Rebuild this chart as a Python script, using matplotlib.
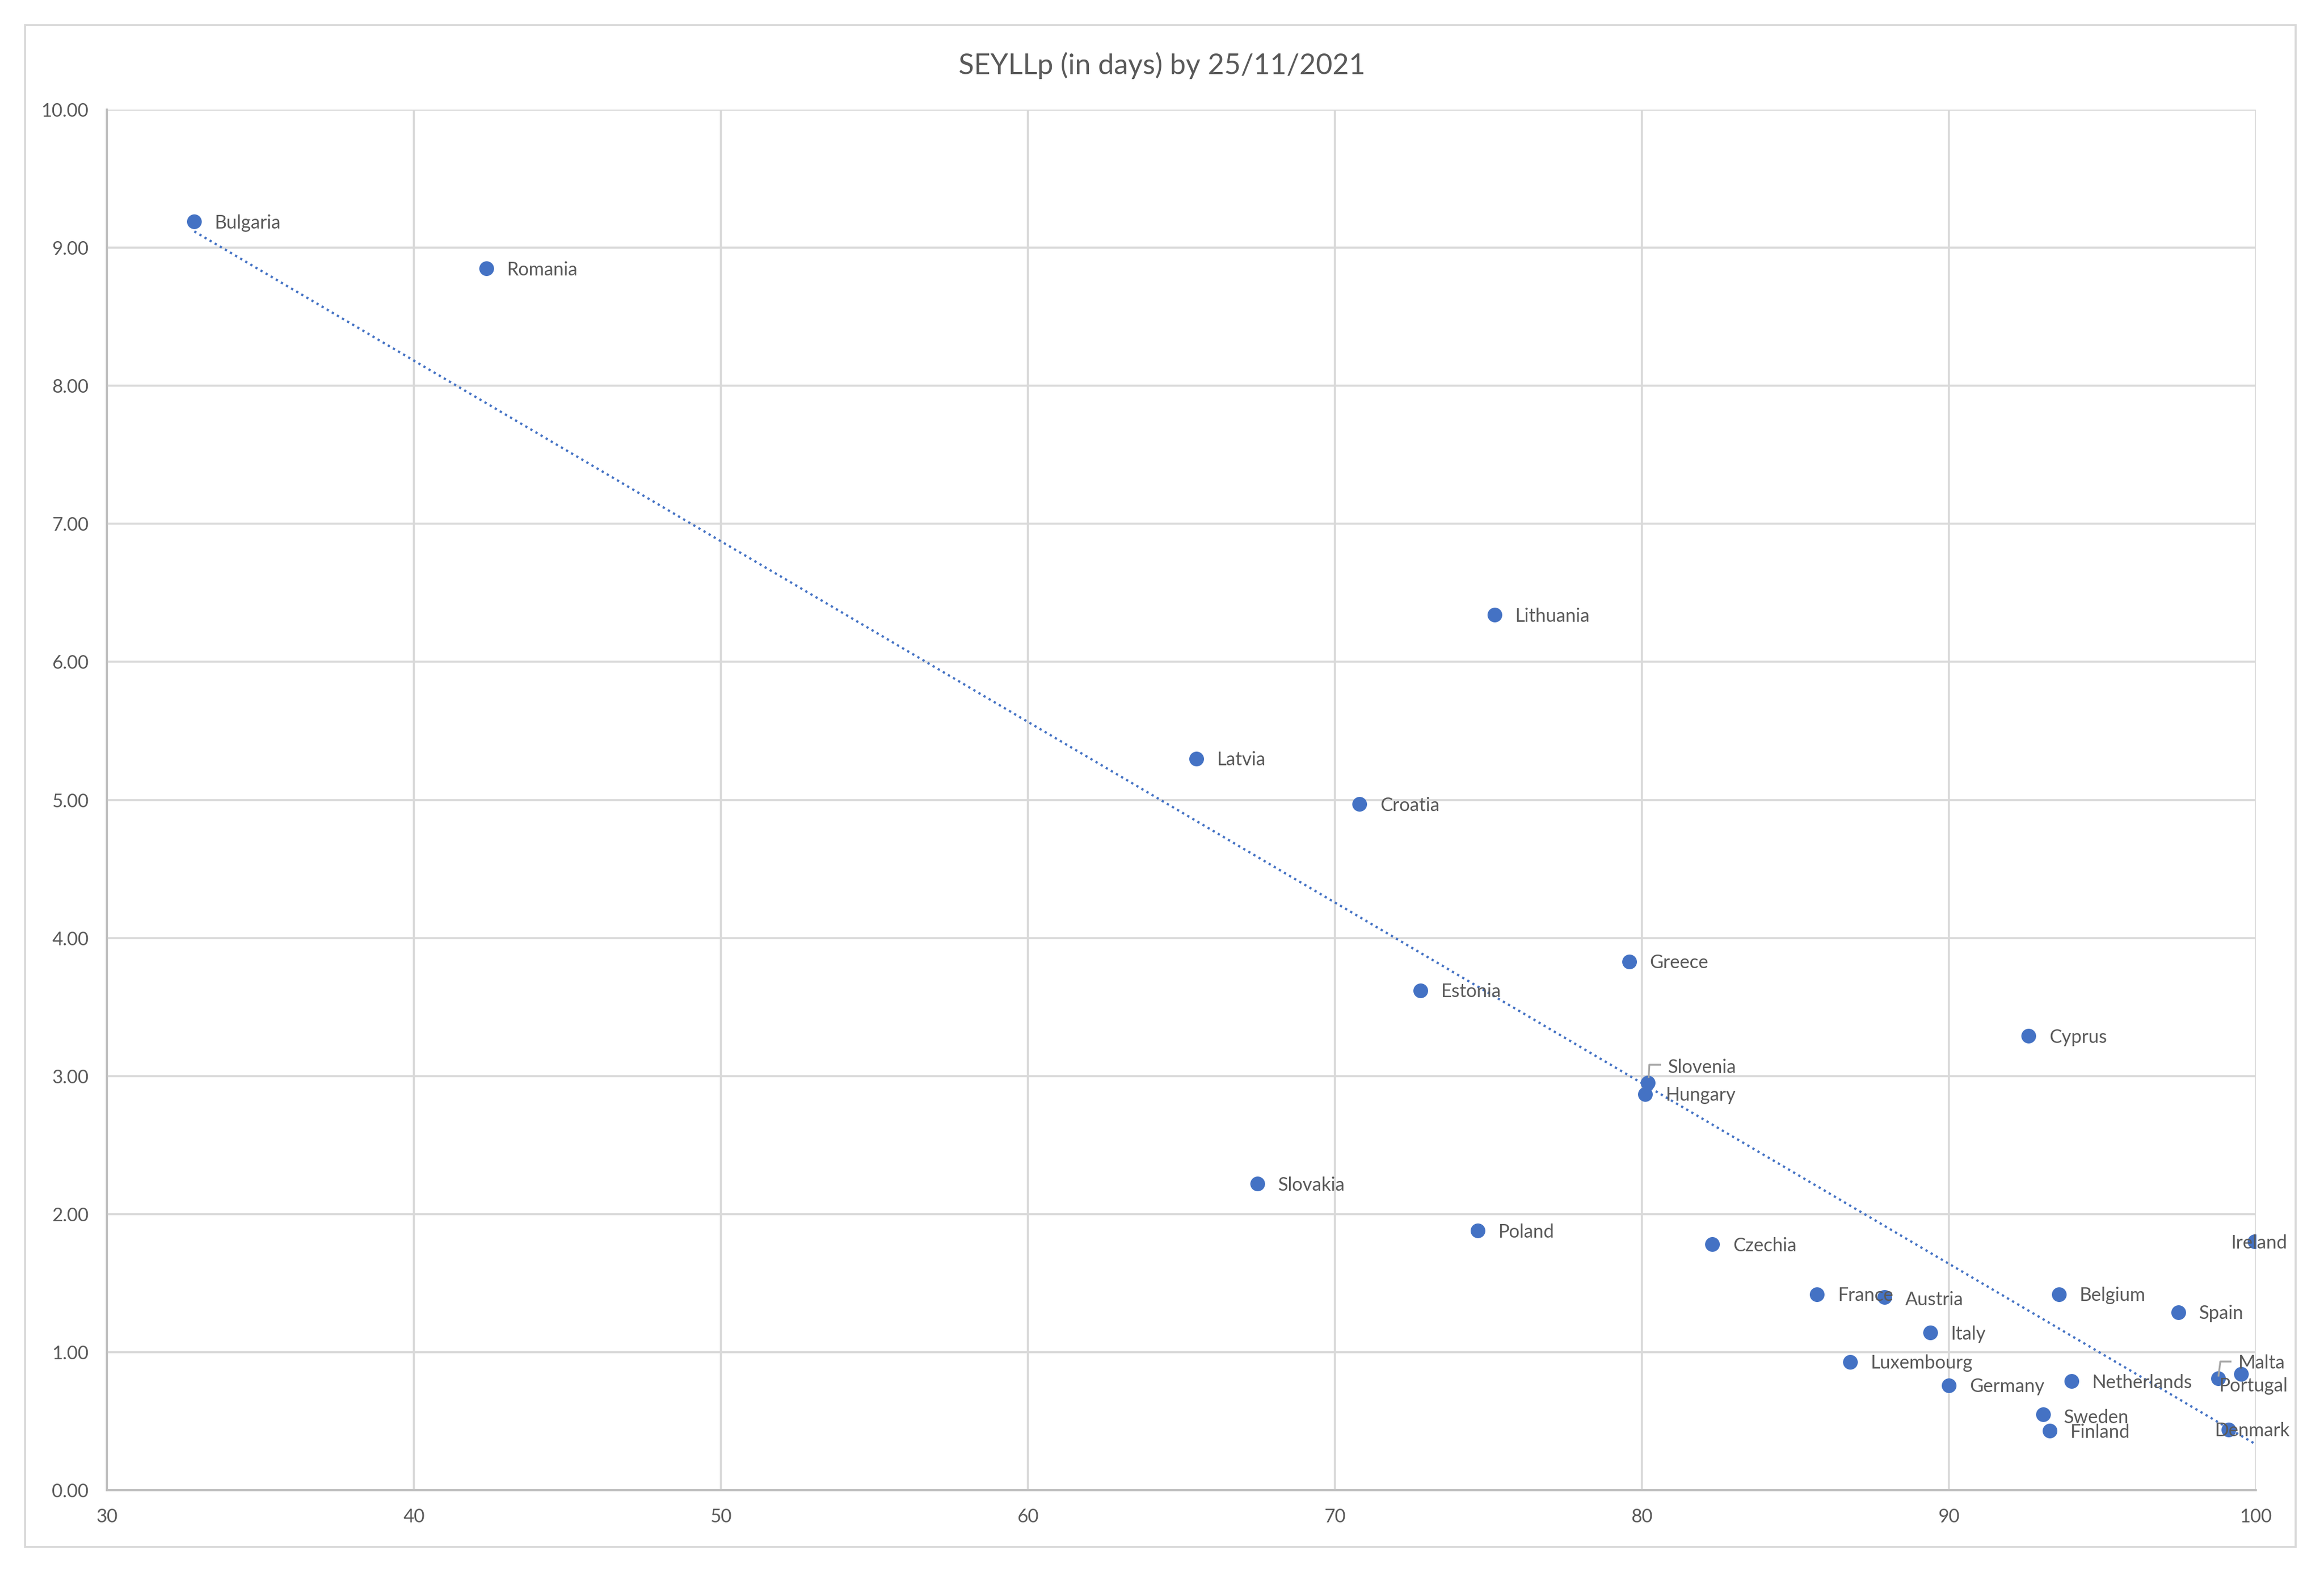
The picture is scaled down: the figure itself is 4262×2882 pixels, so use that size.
import numpy as np
import matplotlib
matplotlib.use('Agg')
import matplotlib.pyplot as plt
from matplotlib.patches import Rectangle

# data
countries = ['Bulgaria', 'Romania', 'Lithuania', 'Latvia', 'Croatia', 'Greece',
             'Estonia', 'Cyprus', 'Slovenia', 'Hungary', 'Slovakia', 'Poland',
             'Czechia', 'Ireland', 'France', 'Austria', 'Belgium', 'Spain',
             'Italy', 'Luxembourg', 'Germany', 'Netherlands', 'Malta',
             'Portugal', 'Sweden', 'Finland', 'Denmark']
x_vals = [32.85, 42.36, 75.2, 65.49, 70.8, 79.59,
          72.78, 92.6, 80.2, 80.1, 67.47, 74.66,
          82.3, 99.97, 85.71, 87.9, 93.59, 97.48,
          89.4, 86.79, 90.0, 93.99, 98.77,
          99.52, 93.08, 93.29, 99.11]
y_vals = [9.19, 8.85, 6.34, 5.30, 4.97, 3.83,
          3.62, 3.29, 2.95, 2.87, 2.22, 1.88,
          1.78, 1.80, 1.42, 1.40, 1.42, 1.29,
          1.14, 0.93, 0.76, 0.79, 0.81,
          0.84, 0.55, 0.43, 0.44]
x_ticks = [30, 40, 50, 60, 70, 80, 90, 100]
y_ticks = [0, 1, 2, 3, 4, 5, 6, 7, 8, 9, 10]
title = 'SEYLLp (in days) by 25/11/2021'

blue = '#4472C4'
txt = '#595959'
FONT = 'Lato'

# label offsets in points (dx, dy, ha); default to the right of the dot
label_pos = {
    'Ireland': (2, -0.6, 'center'),
    'Denmark': (27, -0.6, 'right'),
    'Portugal': (-9.6, -5.2, 'left'),
    'Malta': (8.9, 6.8, 'left'),
    'Slovenia': (8.8, 6.8, 'left'),
    'Austria': (9.1, -1.4, 'left'),
    'Sweden': (9.1, -1.4, 'left'),
}
leaders = {
    'Slovenia': [(0.3, 2.6), (0.6, 8.0), (5.3, 8.0)],
    'Malta': [(0.2, 1.2), (1.0, 7.4), (5.5, 7.4)],
}

W, H = 4262, 2882
fig = plt.figure(figsize=(W / 300, H / 300), dpi=300)
fig.patch.set_facecolor('white')
fig.add_artist(Rectangle((46 / W, 1 - 2836 / H), (4210 - 46) / W, (2836 - 46) / H,
                         transform=fig.transFigure, fill=False,
                         edgecolor='#D9D9D9', lw=0.9))

ax = fig.add_axes([196 / W, 1 - 2732 / H, (4137 - 196) / W, (2732 - 201) / H])
ax.set_xlim(30, 100)
ax.set_ylim(0, 10)
ax.set_xticks(x_ticks)
ax.set_yticks(y_ticks)
ax.set_xticklabels([str(v) for v in x_ticks])
ax.set_yticklabels(['%.2f' % v for v in y_ticks])
ax.tick_params(length=0, labelsize=8.2, labelcolor=txt, pad=8)
for lab in ax.get_xticklabels() + ax.get_yticklabels():
    lab.set_family(FONT)
ax.grid(True, color='#D9D9D9', lw=0.9)
ax.set_axisbelow(True)
for s in ['top', 'right']:
    ax.spines[s].set_visible(False)
for s in ['left', 'bottom']:
    ax.spines[s].set_color('#BFBFBF')
    ax.spines[s].set_linewidth(0.9)

# linear trendline
xa = np.array(x_vals)
ya = np.array(y_vals)
k, b = np.polyfit(xa, ya, 1)
xt = np.array([xa.min(), xa.max()])
ax.plot(xt, k * xt + b, color=blue, lw=1.0, linestyle=(0, (1, 1.6)), zorder=2)

ax.scatter(xa, ya, s=42, color=blue, zorder=3, linewidths=0)

for name, xv, yv in zip(countries, x_vals, y_vals):
    dx, dy, ha = label_pos.get(name, (9.1, -0.6, 'left'))
    ax.annotate(name, (xv, yv), xytext=(dx, dy), textcoords='offset points',
                ha=ha, va='center', fontsize=8.2, color=txt, family=FONT,
                zorder=4)

for name, pts in leaders.items():
    i = countries.index(name)
    base = ax.transData.transform((x_vals[i], y_vals[i]))
    p = base + np.array(pts) * fig.dpi / 72.0
    fig.lines.append(plt.Line2D(p[:, 0], p[:, 1], transform=None,
                                color='#A6A6A6', lw=0.8))

fig.text(0.5, 1 - 120 / H, title, ha='center', va='center', fontsize=12.5,
         color=txt, family=FONT)

fig.savefig('out.png', dpi=300, facecolor='white')
